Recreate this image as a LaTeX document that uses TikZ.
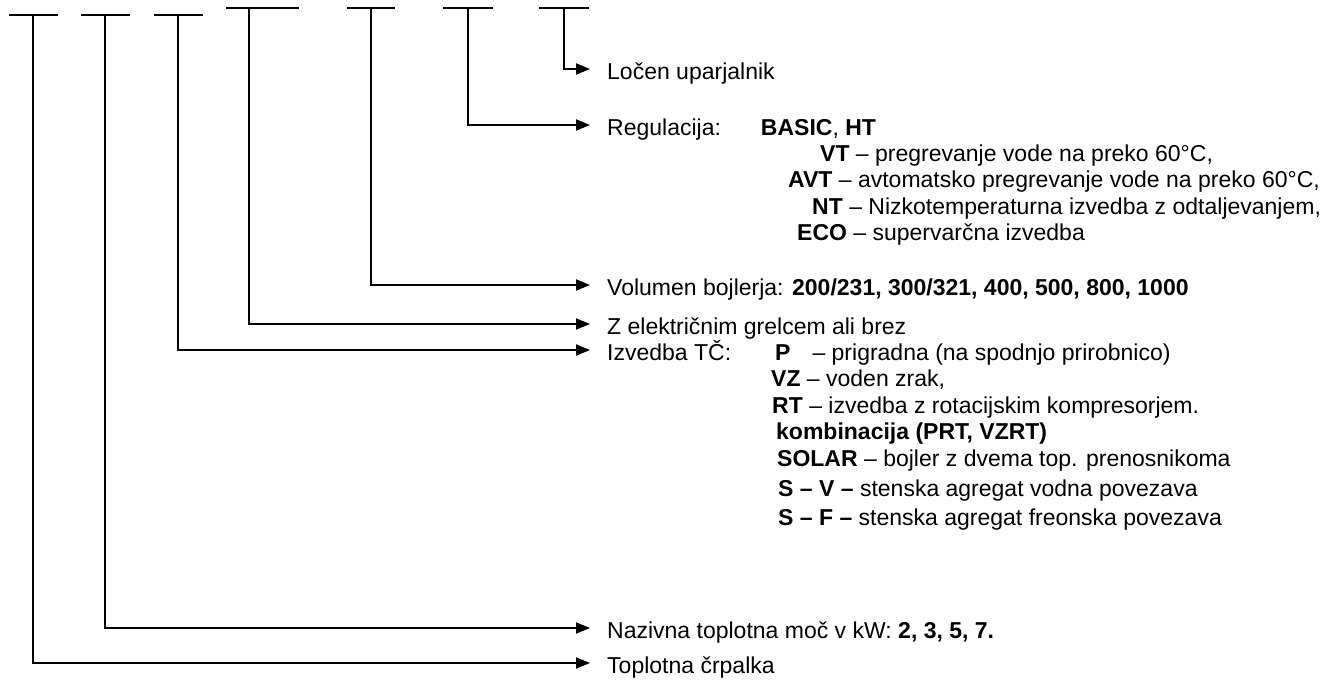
\documentclass[tikz,border=0pt]{standalone}
\usepackage{fontspec}
\setmainfont{Liberation Sans}
\usetikzlibrary{arrows.meta}

\tikzset{
  opis/.style={anchor=base west, inner sep=0pt, text height=25pt, text depth=5pt,
               font=\fontsize{23}{26.5}\selectfont},
  crta/.style={line width=1.9pt},
  puscica/.style={line width=1.9pt, -{Triangle[length=14pt,width=11pt]}, shorten >=17pt},
}

\begin{document}
\begin{tikzpicture}[x=1pt, y=-1pt]
  \useasboundingbox (0,0) rectangle (1335,680);

  % podcrtane oznake v kodi
  \foreach \xa/\xb/\yy in {9/58/15, 81/130/15, 154/203/15, 226/299/8,
                           347/395/8, 443/493/8, 539/589/8} {
    \draw[crta] (\xa,\yy) -- (\xb,\yy);
  }
  \coordinate (oTC)  at (33,15);
  \coordinate (oMoc) at (105,15);
  \coordinate (oIzv) at (178,15);
  \coordinate (oGrel) at (249,8);
  \coordinate (oVol) at (371,8);
  \coordinate (oReg) at (468,8);
  \coordinate (oLoc) at (564,8);

  % opisi
  \node[opis] (locen)   at (607,79)  {Ločen uparjalnik};
  \node[opis] (regul)   at (607,135) {Regulacija:\hspace{40pt}\textbf{BASIC}, \textbf{HT}};
  \node[opis] (regVT)   at (820,161) {\textbf{VT} – pregrevanje vode na preko 60°C,};
  \node[opis] (regAVT)  at (788,187.5) {\textbf{AVT} – avtomatsko pregrevanje vode na preko 60°C,};
  \node[opis] (regNT)   at (812,214) {\textbf{NT} – Nizkotemperaturna izvedba z odtaljevanjem,};
  \node[opis] (regECO)  at (797,240.5) {\textbf{ECO} – supervarčna izvedba};

  \node[opis] (volumen) at (607,295) {Volumen bojlerja: \textbf{200/231, 300/321, 400, 500, 800, 1000}};
  \node[opis] (grelec)  at (607,334) {Z električnim grelcem ali brez};

  \node[opis] (izvedba) at (607,360) {Izvedba TČ:\hspace{44pt}\textbf{P}\hspace{22pt}– prigradna (na spodnjo prirobnico)};
  \node[opis] (izvVZ)   at (771,386.5) {\textbf{VZ} – voden zrak,};
  \node[opis] (izvRT)   at (772,413) {\textbf{RT} – izvedba z rotacijskim kompresorjem.};
  \node[opis] (izvKomb) at (776,439.5) {\textbf{kombinacija (PRT, VZRT)}};
  \node[opis] (izvSolar) at (777,466) {\textbf{SOLAR} – bojler z dvema top. prenosnikoma};
  \node[opis] (izvSV)   at (778,496) {\textbf{S – V –} stenska agregat vodna povezava};
  \node[opis] (izvSF)   at (778,525) {\textbf{S – F –} stenska agregat freonska povezava};

  \node[opis] (moc)     at (607,638) {Nazivna toplotna moč v kW: \textbf{2, 3, 5, 7.}};
  \node[opis] (crpalka) at (607,673) {Toplotna črpalka};

  % povezave
  \draw[puscica] (oLoc) |- (locen.west);
  \draw[puscica] (oReg) |- (regul.west);
  \draw[puscica] (oVol) |- (volumen.west);
  \draw[puscica] (oGrel) |- (grelec.west);
  \draw[puscica] (oIzv) |- (izvedba.west);
  \draw[puscica] (oMoc) |- (moc.west);
  \draw[puscica] (oTC) |- (crpalka.west);
\end{tikzpicture}
\end{document}
